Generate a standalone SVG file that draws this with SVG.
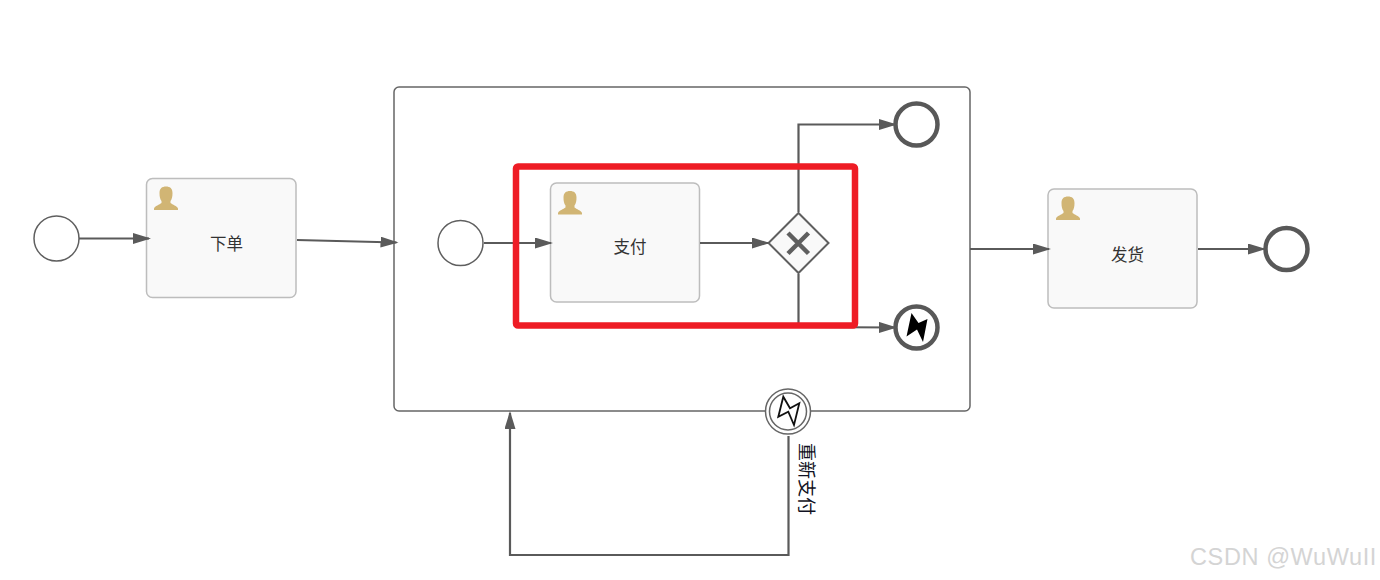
<svg xmlns="http://www.w3.org/2000/svg" width="1380" height="580" viewBox="0 0 1380 580">
<style>
.t{fill:#f9f9f9;stroke:#bdbdbd;stroke-width:1.5}
.c{fill:none;stroke:#5a5a5a;stroke-width:2.2}
.start{fill:#fff;stroke:#5f5f5f;stroke-width:1.5}
.end{fill:#fff;stroke:#585858;stroke-width:4.5}
.l{font:16.500px "Liberation Sans","Noto Sans CJK SC",sans-serif;fill:#333;text-anchor:middle}
.u{fill:#d1b574}
</style>
<defs>
<marker id="a" markerUnits="userSpaceOnUse" markerWidth="20" markerHeight="12" refX="16" refY="5.500" orient="auto"><path d="M0 0L18 5.500L0 11Z" fill="#5a5a5a"/></marker>
<path id="user" d="M-12 11.500V10C-11 7.500-6.500 6-4.500 4.500V2.500C-6 .5-6.500-2-6.500-5.500C-6.500-10-4-12 0-12C4-12 6.500-10 6.500-5.500C6.500-2 6 .5 4.500 2.500V4.500C6.500 6 11 7.500 12 10V11.500Z"/>
</defs>
<g id="subprocess"><rect x="394" y="87" width="576" height="324" rx="5" fill="#fff" stroke="#666" stroke-width="1.500"/></g>
<g id="start1"><circle class="start" cx="56.500" cy="238.500" r="22.500"/></g>
<g id="task1"><rect class="t" x="146.500" y="178.500" width="149.500" height="119" rx="6"/><use href="#user" class="u" x="166" y="198.500"/><text class="l" x="226.500" y="249.500">下单</text></g>
<g id="start2"><circle class="start" cx="460.500" cy="243" r="22.500"/></g>
<g id="task2"><rect class="t" x="550.500" y="183" width="149" height="119" rx="6"/><use href="#user" class="u" x="570" y="203"/><text class="l" x="630" y="252.500">支付</text></g>
<g id="gateway"><path d="M798.500 213L828.500 243L798.500 273L768.500 243Z" fill="#f9f9f9" stroke="#5f5f5f" stroke-width="2"/><path d="M788 233L808.500 253.500M808.500 233L788 253.500" stroke="#5f5f5f" stroke-width="4.500" fill="none"/></g>
<g id="end1"><circle class="end" cx="916.500" cy="124.500" r="21"/></g>
<g id="end2"><circle class="end" cx="916.500" cy="327.500" r="21"/><path d="M906.500 336.500L911.500 313L918.500 323L927.500 319L923 342L917 329.500Z" fill="#000"/></g>
<g id="task3"><rect class="t" x="1048" y="189" width="149" height="119" rx="6"/><use href="#user" class="u" x="1068" y="208.500"/><text class="l" x="1127.500" y="260.500">发货</text></g>
<g id="end3"><circle class="end" cx="1286.500" cy="249" r="21"/></g>
<g id="connectors">
<path class="c" marker-end="url(#a)" d="M79 238.500H149"/>
<path class="c" marker-end="url(#a)" d="M297 240L396.500 242.500"/>
<path class="c" marker-end="url(#a)" d="M484 243H551"/>
<path class="c" marker-end="url(#a)" d="M700 243H768"/>
<path class="c" marker-end="url(#a)" d="M798.500 212V124.500H895"/>
<path class="c" marker-end="url(#a)" d="M798.500 274V327L895 327.500"/>
<path class="c" marker-end="url(#a)" d="M970 249H1049"/>
<path class="c" marker-end="url(#a)" d="M1198 249H1264"/>
<path class="c" marker-end="url(#a)" d="M788.500 436V555H510V413"/>
</g>
<g id="boundary"><circle cx="788" cy="411.500" r="22.500" fill="#fff" stroke="#666" stroke-width="1.500"/><circle cx="788" cy="411.500" r="18.500" fill="#fff" stroke="#666" stroke-width="1.500"/><path d="M778.300 416.700L783.300 396.700L790 408.300L799.300 403.300L794 425L788.300 411.700Z" fill="#fff" stroke="#111" stroke-width="1.800"/></g>
<g id="label"><text x="806" y="479" transform="rotate(90 806 479)" font-family="Liberation Sans,Noto Sans CJK SC,sans-serif" font-size="18" fill="#112" text-anchor="middle" dominant-baseline="central">重新支付</text></g>
<g id="highlight"><rect x="516" y="166.500" width="339" height="159" rx="2" fill="none" stroke="#ee1c25" stroke-width="6.500"/></g>
<text x="1283.500" y="565" font-family="Liberation Sans,sans-serif" font-size="23.500" fill="#d4d4d4" text-anchor="middle" letter-spacing=".6">CSDN @WuWuII</text>
</svg>
